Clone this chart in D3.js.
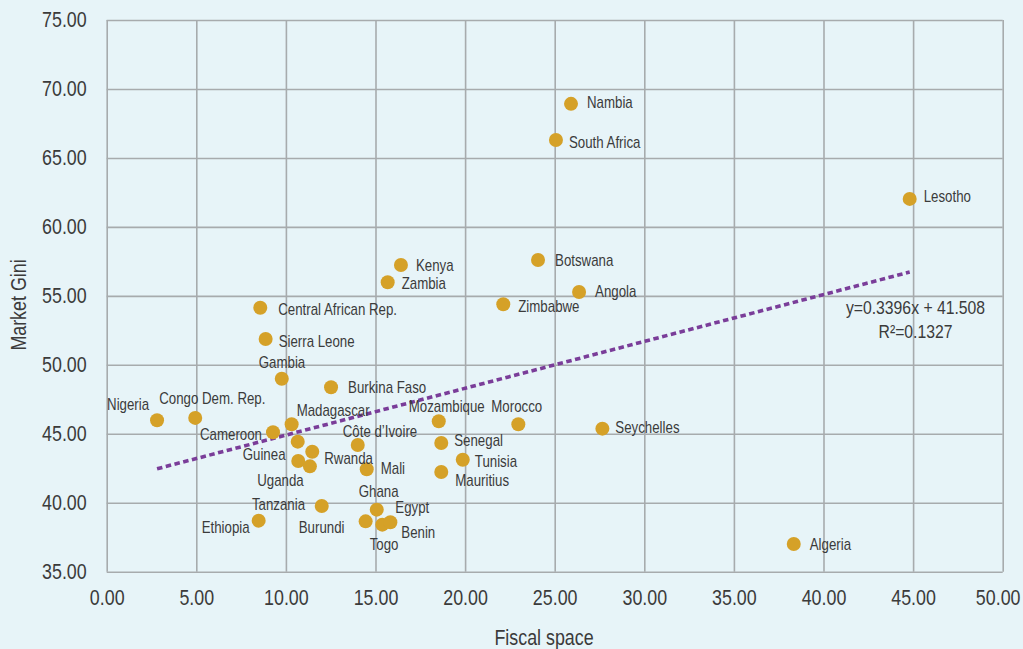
<!DOCTYPE html>
<html>
<head>
<meta charset="utf-8">
<script src="https://cdn.jsdelivr.net/npm/d3@7"></script>
<style>
  html, body { margin: 0; padding: 0; background: #e7f4f8; }
  svg { display: block; }
  text { font-family: "Liberation Sans", Arial, sans-serif; fill: #3b3b3b; }
</style>
</head>
<body>
<svg id="chart" width="1023" height="649"></svg>
<script>
// Fiscal space vs. market Gini, by country
const countries = [
  "Nigeria", "Congo Dem. Rep.", "Cameroon", "Madagascar", "Gambia", "Sierra Leone",
  "Central African Rep.", "Burkina Faso", "Guinea", "Rwanda", "Uganda", "Tanzania",
  "Burundi", "Togo", "Ghana", "Benin", "Egypt", "Ethiopia", "Côte d’Ivoire", "Mali",
  "Mozambique", "Morocco", "Senegal", "Tunisia", "Mauritius", "Kenya", "Zambia",
  "Zimbabwe", "Botswana", "Angola", "Nambia", "South Africa", "Lesotho", "Seychelles", "Algeria"
];
const fiscalSpace = [
  2.81, 4.94, 9.28, 10.32, 9.77, 8.87,
  8.57, 12.52, 10.66, 11.47, 10.69, 11.34,
  12.00, 14.45, 15.07, 15.38, 15.83, 8.48, 14.01, 14.51,
  18.53, 22.97, 18.67, 19.87, 18.67, 16.42, 15.68,
  22.13, 24.07, 26.36, 25.91, 25.07, 44.81, 27.66, 38.34
];
const marketGini = [
  45.98, 46.15, 45.11, 45.69, 48.99, 51.87,
  54.14, 48.37, 44.43, 43.70, 43.03, 42.64,
  39.76, 38.65, 39.50, 38.41, 38.58, 38.70, 44.19, 42.43,
  45.91, 45.69, 44.33, 43.12, 42.23, 57.24, 55.99,
  54.39, 57.60, 55.28, 68.92, 66.30, 62.03, 45.37, 37.01
];
const xTicks = [0, 5, 10, 15, 20, 25, 30, 35, 40, 45, 50];
const yTicks = [35, 40, 45, 50, 55, 60, 65, 70, 75];
const trendSlope = 0.3396;
const trendIntercept = 41.508;
const equationLines = ["y=0.3396x + 41.508", "R²=0.1327"];

// Label offsets from each marker (pixels): text starts at dx, vertically centred at dy
const labelOffsets = {
  "Nigeria": [-50, -16], "Congo Dem. Rep.": [-36, -20], "Cameroon": [-73, 2],
  "Madagascar": [5, -14], "Gambia": [-23, -16], "Sierra Leone": [13, 2],
  "Central African Rep.": [18, 2], "Burkina Faso": [17, 0], "Guinea": [-55, 13],
  "Rwanda": [12, 7], "Uganda": [-41, 19], "Tanzania": [-58, 38],
  "Burundi": [-23, 21], "Togo": [4, 23], "Ghana": [-18, -18], "Benin": [19, 8],
  "Egypt": [5, -15], "Ethiopia": [-57, 7], "Côte d’Ivoire": [-15, -14], "Mali": [14, -1],
  "Mozambique": [-30, -15], "Morocco": [-27, -18], "Senegal": [13, -3],
  "Tunisia": [12, 2], "Mauritius": [14, 8], "Kenya": [15, 0], "Zambia": [14, 1],
  "Zimbabwe": [15, 2], "Botswana": [17, 0], "Angola": [16, -1], "Nambia": [16, -1],
  "South Africa": [13, 2], "Lesotho": [14, -2], "Seychelles": [13, -1], "Algeria": [16, 0]
};

const points = countries.map((c, i) => ({ name: c, x: fiscalSpace[i], y: marketGini[i] }));

const W = 1023, H = 649;
const margin = { top: 20, right: 20.3, bottom: 77.3, left: 106.7 };
const NARROW = 0.83; // horizontal squeeze for a condensed typeface look
const svg = d3.select("#chart");

// Condense text: move its anchor point into a transform and squeeze horizontally
function condense(sel) {
  sel.each(function () {
    const t = d3.select(this);
    const tx = +t.attr("x") || 0, ty = +t.attr("y") || 0;
    const prev = t.attr("transform") || "";
    t.attr("x", 0).attr("y", 0)
      .attr("transform", `${prev} translate(${tx},${ty}) scale(${NARROW},1)`);
  });
}

svg.append("rect").attr("width", W).attr("height", H).attr("fill", "#e7f4f8");

const x = d3.scaleLinear().domain([0, 50]).range([margin.left, W - margin.right]);
const y = d3.scaleLinear().domain([35, 75]).range([H - margin.bottom, margin.top]);

const gridColor = "#a7abad";

// Vertical gridlines and x tick labels
const xAxis = d3.axisBottom(x).tickValues(xTicks).tickFormat(d3.format(".2f"))
  .tickSize(-(y(35) - y(75))).tickPadding(18);
const gx = svg.append("g").attr("transform", `translate(0,${y(35)})`).call(xAxis);
gx.select(".domain").remove();
gx.selectAll(".tick line").attr("stroke", gridColor).attr("stroke-width", 1.6);
gx.selectAll(".tick text").attr("font-size", 21.5).attr("fill", "#3b3b3b")
  .style("font-family", "'Liberation Sans', Arial, sans-serif")
  // keep the last label inside the page edge
  .attr("x", d => d === 50 ? -5 : 0)
  .call(condense);

// Horizontal gridlines and y tick labels
const yAxis = d3.axisLeft(y).tickValues(yTicks).tickFormat(d3.format(".2f"))
  .tickSize(-(x(50) - x(0))).tickPadding(20);
const gy = svg.append("g").attr("transform", `translate(${x(0)},0)`).call(yAxis);
gy.select(".domain").remove();
gy.selectAll(".tick line").attr("stroke", gridColor).attr("stroke-width", 1.6);
gy.selectAll(".tick text").attr("font-size", 21.5).attr("fill", "#3b3b3b")
  .style("font-family", "'Liberation Sans', Arial, sans-serif").call(condense);

// Axis titles
svg.append("text")
  .attr("x", 544).attr("y", 637).attr("dy", "0.35em")
  .attr("text-anchor", "middle").attr("font-size", 21.5)
  .text("Fiscal space").call(condense);
svg.append("text")
  .attr("transform", `translate(18,305) rotate(-90) scale(${NARROW},1)`)
  .attr("dy", "0.35em")
  .attr("text-anchor", "middle").attr("font-size", 21.5)
  .text("Market Gini");

// Linear trendline across the data range
const xExtent = d3.extent(fiscalSpace);
const trend = xExtent.map(v => [v, trendSlope * v + trendIntercept]);
svg.append("path")
  .datum(trend)
  .attr("d", d3.line().x(d => x(d[0])).y(d => y(d[1])))
  .attr("fill", "none")
  .attr("stroke", "#7a3d99")
  .attr("stroke-width", 3.6)
  .attr("stroke-dasharray", "5.5,3.5");

// Markers
svg.append("g").selectAll("circle")
  .data(points).join("circle")
  .attr("cx", d => x(d.x)).attr("cy", d => y(d.y))
  .attr("r", 7).attr("fill", "#d5a128");

// Country labels
svg.append("g").selectAll("text")
  .data(points).join("text")
  .attr("x", d => x(d.x) + labelOffsets[d.name][0])
  .attr("y", d => y(d.y) + labelOffsets[d.name][1])
  .attr("dy", "0.35em")
  .attr("font-size", 16)
  .text(d => d.name)
  .call(condense);

// Trendline equation
svg.append("g").selectAll("text")
  .data(equationLines).join("text")
  .attr("x", 915.5)
  .attr("y", (d, i) => 307.7 + i * 23.5)
  .attr("dy", "0.35em")
  .attr("text-anchor", "middle")
  .attr("font-size", 19)
  .text(d => d)
  .call(condense);
</script>
</body>
</html>
